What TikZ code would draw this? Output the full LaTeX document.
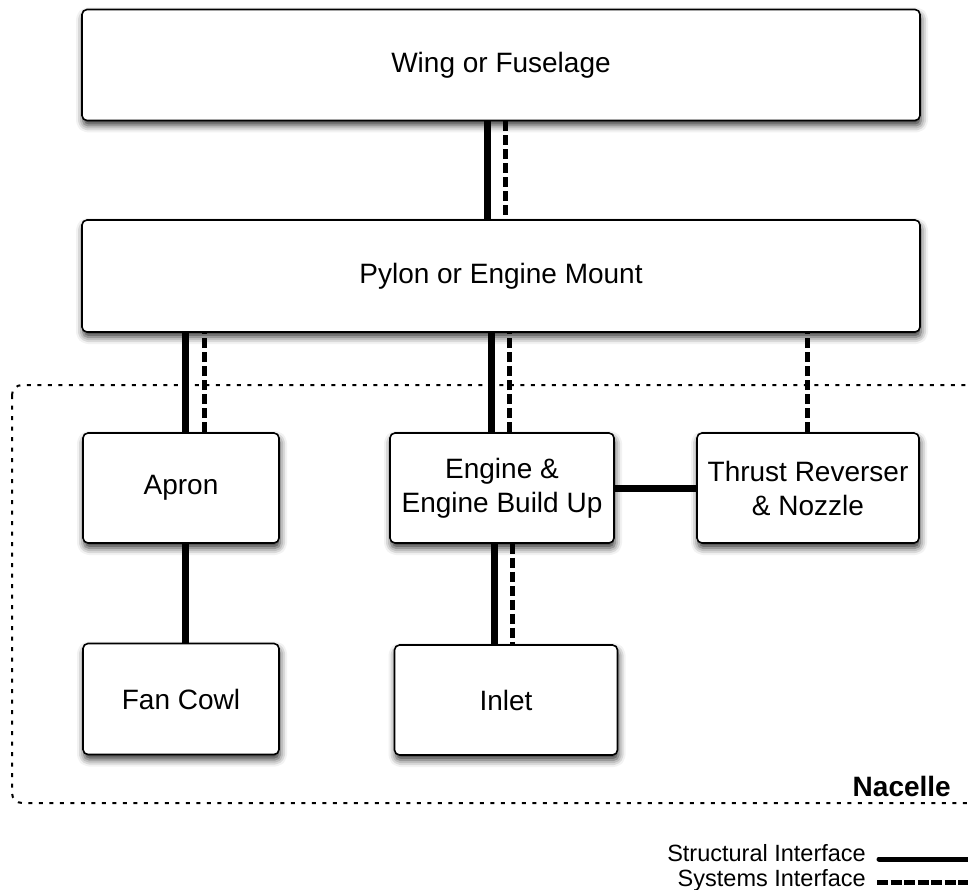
\documentclass[tikz,border=0pt]{standalone}
\usepackage{fontspec}
\setmainfont{Liberation Sans}
\usetikzlibrary{shadows.blur}

\tikzset{
  unitbox/.style={draw=black, line width=1.6pt, fill=white, rounded corners=5pt,
    inner sep=0pt, align=center,
    font=\fontsize{28}{34}\selectfont,
    blur shadow={shadow xshift=1pt, shadow yshift=-5pt,
      shadow blur radius=7pt, shadow opacity=80}},
  structural/.style={line width=7pt, black},
  systems/.style={line width=5pt, black, dash pattern=on 10pt off 4pt},
  nacelleline/.style={line width=2pt, dash pattern=on 4pt off 6.5pt, rounded corners=10pt},
  legendtext/.style={font=\fontsize{23.5}{26}\selectfont, anchor=base east, inner sep=0pt},
}

\begin{document}
\begin{tikzpicture}[x=1pt, y=-1pt]
  \useasboundingbox (0,0) rectangle (968,890);

  % nacelle envelope
  \draw[nacelleline] (12,385) rectangle (980,803);
  \node[font=\fontsize{28}{33}\selectfont\bfseries, anchor=base east, inner sep=0pt]
    (nacelle) at (951,796) {Nacelle};

  % units
  \node[unitbox, minimum width=838pt, minimum height=111pt] (wing)    at (501,65)  {Wing or Fuselage};
  \node[unitbox, minimum width=838pt, minimum height=112pt] (pylon)   at (501,276) {Pylon or Engine Mount};
  \node[unitbox, minimum width=196pt, minimum height=110pt] (apron)   at (181,488) {Apron};
  \node[unitbox, minimum width=224pt, minimum height=110pt] (engine)  at (502,488) {Engine \&\\Engine Build Up};
  \node[unitbox, minimum width=222pt, minimum height=110pt] (thrust)  at (808,488) {Thrust Reverser\\\& Nozzle};
  \node[unitbox, minimum width=196pt, minimum height=111pt] (fancowl) at (181,699) {Fan Cowl};
  \node[unitbox, minimum width=223pt, minimum height=110pt] (inlet)   at (506,700) {Inlet};

  % interfaces
  \draw[structural] ([xshift=-14pt]wing.south) -- ([xshift=-14pt]pylon.north);
  \draw[systems]    ([xshift=4pt]wing.south)   -- ([xshift=4pt]pylon.north);

  \draw[structural] ([xshift=4pt]apron.north)  -- ([xshift=4pt]apron.north |- pylon.south);
  \draw[systems]    ([xshift=23pt]apron.north) -- ([xshift=23pt]apron.north |- pylon.south);

  \draw[structural] ([xshift=-11pt]engine.north) -- ([xshift=-11pt]engine.north |- pylon.south);
  \draw[systems]    ([xshift=7pt]engine.north)   -- ([xshift=7pt]engine.north |- pylon.south);

  \draw[systems]    ([xshift=-1pt]thrust.north) -- ([xshift=-1pt]thrust.north |- pylon.south);

  \draw[structural] (engine.east) -- (thrust.west);

  \draw[structural] ([xshift=4pt]apron.south) -- ([xshift=4pt]apron.south |- fancowl.north);

  \draw[structural] ([xshift=-8pt]engine.south) -- ([xshift=-8pt]engine.south |- inlet.north);
  \draw[systems]    ([xshift=10pt]engine.south) -- ([xshift=10pt]engine.south |- inlet.north);

  % legend
  \node[legendtext] (lstruct) at (866,861) {Structural Interface};
  \node[legendtext] (lsys)    at (866,886) {Systems Interface};
  \coordinate (lstructend) at (980,859);
  \coordinate (lsysend)    at (980,882);
  \draw[line width=5pt, line cap=round] ([xshift=13pt]lstruct.east |- lstructend) -- (lstructend);
  \draw[line width=5pt, dash pattern=on 11pt off 2.5pt] ([xshift=11pt]lsys.east |- lsysend) -- (lsysend);
\end{tikzpicture}
\end{document}
